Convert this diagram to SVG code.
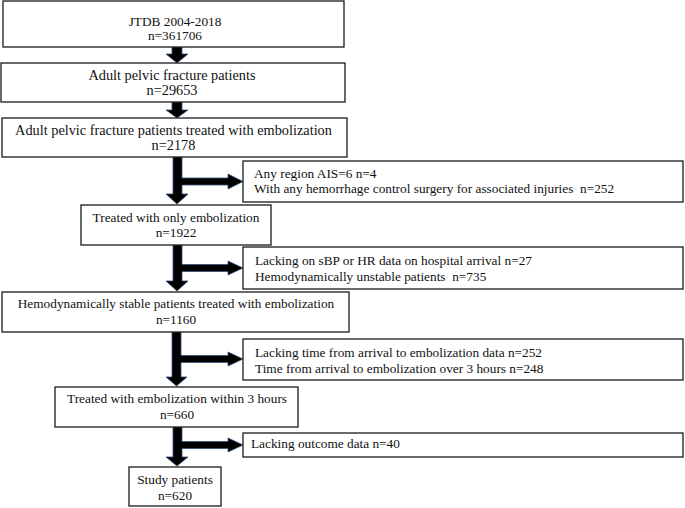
<svg xmlns="http://www.w3.org/2000/svg" width="685" height="508" viewBox="0 0 685 508">
<style>
.box{fill:#fff;stroke:#1a1a1a;stroke-width:1.3}
.t{font-family:"Liberation Serif","Times New Roman",serif;font-size:13.3px;fill:#111}
.l{font-size:14.3px}
.c{text-anchor:middle}
.arr{fill:#000;stroke:#34507e;stroke-width:0.8;stroke-linejoin:miter}
</style>
<rect width="685" height="508" fill="#fff"/>
<g id="connectors">
<polygon class="arr" points="172,47 182,47 182,54 188,54 177,63 166,54 172,54"/>
<polygon class="arr" points="172,102 182,102 182,110 188,110 177,118 166,110 172,110"/>
<polygon class="arr" points="173,157 182,157 182,178 228,178 228,174 243,181.5 228,189 228,185 182,185 182,194 188,194 177,204 166,194 173,194"/>
<polygon class="arr" points="173,245 182,245 182,264.5 228,264.5 228,261 243,268 228,275 228,271.5 182,271.5 182,281 188,281 177,291 166,281 173,281"/>
<polygon class="arr" points="172,332 181,332 181,355.5 228,355.5 228,352 243,359 228,366 228,362.5 181,362.5 181,377 187,377 176.5,386 166,377 172,377"/>
<polygon class="arr" points="173,427 182,427 182,441.5 228,441.5 228,438 243,445 228,452 228,448.5 182,448.5 182,457 188,457 177,466 166,457 173,457"/>
</g>
<g id="n1"><rect class="box" x="3" y="1" width="341" height="46"/>
<text class="t c" x="175" y="26">JTDB 2004-2018</text><text class="t c" x="175" y="40">n=361706</text></g>
<g id="n2"><rect class="box" x="1" y="63" width="344" height="39"/>
<text class="t l c" x="172" y="80">Adult pelvic fracture patients</text><text class="t l c" x="172" y="95">n=29653</text></g>
<g id="n3"><rect class="box" x="2" y="118" width="345" height="39"/>
<text class="t l c" x="173.5" y="135">Adult pelvic fracture patients treated with embolization</text><text class="t l c" x="173.5" y="150">n=2178</text></g>
<g id="n4"><rect class="box" x="243" y="161" width="440" height="41"/>
<text class="t" x="254" y="178">Any region AIS=6 n=4</text><text class="t" x="254" y="193" xml:space="preserve">With any hemorrhage control surgery for associated injuries  n=252</text></g>
<g id="n5"><rect class="box" x="81" y="205" width="190" height="40"/>
<text class="t c" x="176" y="222">Treated with only embolization</text><text class="t c" x="176" y="237">n=1922</text></g>
<g id="n6"><rect class="box" x="243" y="247" width="440" height="42"/>
<text class="t" x="255" y="265">Lacking on sBP or HR data on hospital arrival n=27</text><text class="t" x="255" y="281" xml:space="preserve">Hemodynamically unstable patients  n=735</text></g>
<g id="n7"><rect class="box" x="2" y="292" width="347" height="40"/>
<text class="t c" x="176" y="308">Hemodynamically stable patients treated with embolization</text><text class="t c" x="176" y="324">n=1160</text></g>
<g id="n8"><rect class="box" x="243" y="339" width="440" height="41"/>
<text class="t" x="255" y="357">Lacking time from arrival to embolization data n=252</text><text class="t" x="255" y="373">Time from arrival to embolization over 3 hours n=248</text></g>
<g id="n9"><rect class="box" x="55" y="387" width="243" height="40"/>
<text class="t c" x="177" y="403">Treated with embolization within 3 hours</text><text class="t c" x="177" y="419">n=660</text></g>
<g id="n10"><rect class="box" x="243" y="433" width="440" height="24"/>
<text class="t" x="251" y="448">Lacking outcome data n=40</text></g>
<g id="n11"><rect class="box" x="129" y="467" width="92" height="39"/>
<text class="t c" x="175" y="484">Study patients</text><text class="t c" x="175" y="500">n=620</text></g>
</svg>
